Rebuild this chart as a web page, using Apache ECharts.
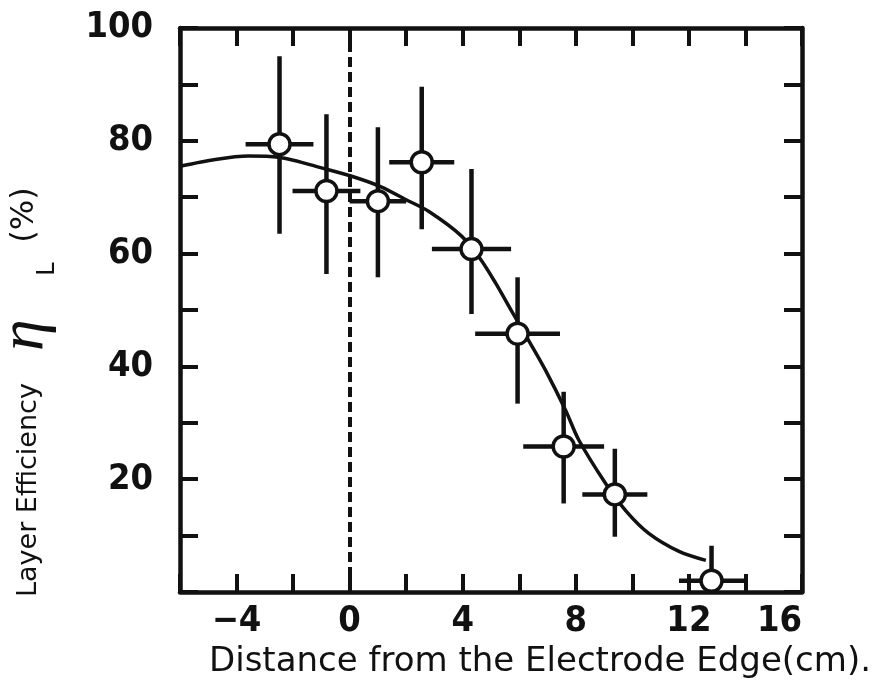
<!DOCTYPE html>
<html>
<head>
<meta charset="utf-8">
<script src="https://cdn.jsdelivr.net/npm/echarts@6/dist/echarts.min.js"></script>
<style>
html,body{margin:0;padding:0;background:#fff;}
#chart{width:891px;height:698px;}
</style>
</head>
<body>
<div id="chart"></div>
<script>
// Measured points (distance in cm, layer efficiency in %)
const ptX    = [-2.48, -0.82, 1.0, 2.55, 4.31, 5.94, 7.57, 9.38, 12.8];
const ptY    = [79.4, 71.1, 69.3, 76.2, 60.8, 45.8, 25.8, 17.3, 2.0];
const errX   = [1.2, 1.2, 1.0, 1.15, 1.4, 1.5, 1.43, 1.15, 1.15];
const errYLo = [63.5, 56.4, 55.8, 64.3, 49.3, 33.4, 15.7, 9.8, 0];
const errYHi = [95.0, 84.7, 82.4, 89.6, 75.0, 55.8, 35.5, 25.4, 8.2];

// Fitted curve
const curveX = [-6, -4.75, -3.58, -2.52, -0.85, 0.21, 1.13, 1.98, 2.79, 3.96, 4.63, 5.16, 5.73, 6.4, 6.94, 7.65, 8.1, 9.06, 9.77, 10.58, 11.65, 12.6];
const curveY = [75.5, 76.7, 77.3, 77.1, 75.0, 73.5, 71.8, 69.6, 67.5, 63.1, 59.0, 54.8, 49.8, 44.0, 39.2, 32.1, 27.0, 19.2, 14.4, 10.4, 7.2, 5.6];

// Axis ticks and titles
const xLabels = [-4, 0, 4, 8, 12, 16];
const yLabels = [20, 40, 60, 80, 100];
const edgeX = 0;
const xTitle = 'Distance from the Electrode Edge(cm).';
const yTitleParts = ['Layer Efficiency', '\u03b7', 'L', '(%)'];

const chart = echarts.init(document.getElementById('chart'));
const labelFont = "'Liberation Sans Narrow','DejaVu Sans Condensed',sans-serif";
const black = '#111';

const pts = ptX.map((x, i) => [x, ptY[i], errX[i], errYLo[i], errYHi[i]]);
const curve = curveX.map((x, i) => [x, curveY[i]]);

const axisCommon = () => ({
  axisLine: {show: true, onZero: false, lineStyle: {color: black, width: 4.5}},
  axisTick: {show: true, inside: true, length: 18, lineStyle: {color: black, width: 4}},
  splitLine: {show: false}
});

function titleText(text, u, v, size, family, align, italic) {
  return {
    type: 'text', x: u, y: v, silent: true,
    style: {
      text: text, fill: black, fontSize: size, fontFamily: family,
      fontStyle: italic ? 'italic' : 'normal',
      align: align, verticalAlign: 'middle', textAlign: align, textVerticalAlign: 'middle'
    }
  };
}

chart.setOption({
  animation: false,
  backgroundColor: '#fff',
  grid: {left: 180, right: 89, top: 28, bottom: 106, containLabel: false, outerBoundsMode: 'none'},
  graphic: [{
    type: 'group', x: 0, y: 597, rotation: Math.PI / 2, silent: true,
    children: [
      titleText(yTitleParts[0], 0, 29, 27, "'DejaVu Sans',sans-serif", 'left', false),
      titleText(yTitleParts[1], 262, 25, 64, "'Liberation Serif',serif", 'center', true),
      titleText(yTitleParts[2], 328, 48, 24, "'DejaVu Sans',sans-serif", 'center', false),
      titleText(yTitleParts[3], 382, 25, 32, "'DejaVu Sans',sans-serif", 'center', false)
    ]
  }],
  xAxis: [
    Object.assign({
      type: 'value', position: 'bottom', min: -6, max: 16, interval: 2,
      axisLabel: {
        margin: 12, color: black, fontSize: 36, fontWeight: 'bold', fontFamily: labelFont,
        formatter: v => xLabels.indexOf(v) >= 0 ? (v < 0 ? '\u2212' + Math.abs(v) : String(v)) : '',
        showMaxLabel: true, alignMaxLabel: 'right'
      },
      name: xTitle,
      nameLocation: 'middle', nameGap: 46,
      nameTextStyle: {fontSize: 34, color: black, fontFamily: "'DejaVu Sans',sans-serif", padding: [0, 0, 0, 98]}
    }, axisCommon()),
    Object.assign({
      type: 'value', position: 'top', min: -6, max: 16, interval: 2,
      axisLabel: {show: false}
    }, axisCommon())
  ],
  yAxis: [
    Object.assign({
      type: 'value', position: 'left', min: 0, max: 100, interval: 10,
      axisLabel: {
        margin: 27, color: black, fontSize: 36, fontWeight: 'bold', fontFamily: labelFont,
        formatter: v => yLabels.indexOf(v) >= 0 ? String(v) : ''
      }
    }, axisCommon()),
    Object.assign({
      type: 'value', position: 'right', min: 0, max: 100, interval: 10,
      axisLabel: {show: false}
    }, axisCommon())
  ],
  series: [
    {
      type: 'line', data: curve, smooth: 0.3, symbol: 'none', z: 2,
      lineStyle: {color: black, width: 3.5},
      markLine: {
        silent: true, symbol: 'none', label: {show: false},
        lineStyle: {color: black, width: 4, type: [10, 5]},
        data: [{xAxis: edgeX}]
      }
    },
    {
      type: 'custom', z: 3,
      renderItem: function (params, api) {
        const x = api.value(0), y = api.value(1), ex = api.value(2), lo = api.value(3), hi = api.value(4);
        const l = api.coord([x - ex, y]), r = api.coord([x + ex, y]);
        const t = api.coord([x, hi]), b = api.coord([x, lo]);
        const st = {stroke: black, lineWidth: 4.5};
        return {
          type: 'group',
          children: [
            {type: 'line', shape: {x1: l[0], y1: l[1], x2: r[0], y2: r[1]}, style: st},
            {type: 'line', shape: {x1: t[0], y1: t[1], x2: b[0], y2: b[1]}, style: st}
          ]
        };
      },
      encode: {x: 0, y: 1},
      data: pts
    },
    {
      type: 'scatter', z: 4, data: pts.map(p => [p[0], p[1]]),
      symbol: 'circle', symbolSize: 21,
      itemStyle: {color: '#fff', borderColor: black, borderWidth: 3.5, opacity: 1}
    }
  ]
});
</script>
</body>
</html>
